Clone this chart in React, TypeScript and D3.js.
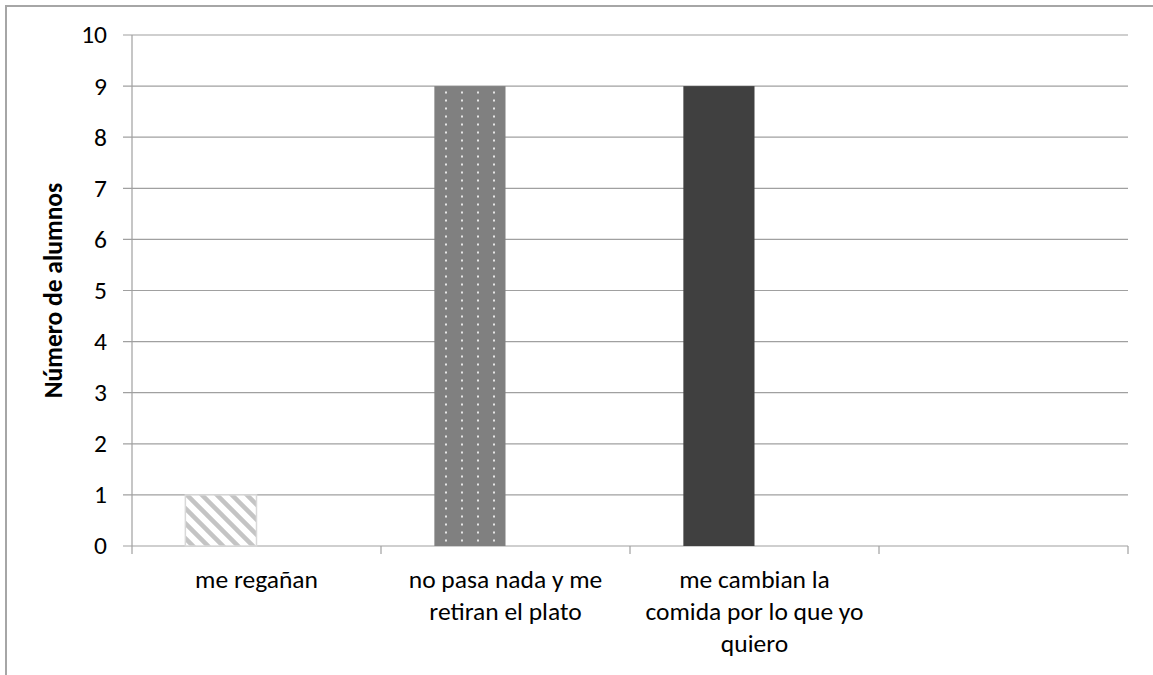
import React, { useEffect, useRef } from "react";
import * as d3 from "d3";

const categories = ["me regañan", "no pasa nada y me retiran el plato", "me cambian la comida por lo que yo quiero", ""];
const alumnos = [1, 9, 9, null];
const labelLines = [["me regañan"], ["no pasa nada y me", "retiran el plato"], ["me cambian la", "comida por lo que yo", "quiero"], []];
const yTicks = [0, 1, 2, 3, 4, 5, 6, 7, 8, 9, 10];
const yTitle = "Número de alumnos";

const FONT = "Calibri, Carlito, 'Open Sans', 'Liberation Sans', sans-serif";
const FS = 25.5;

function renderChart(el: SVGSVGElement) {
  const W = 1153;
  const H = 675;
  const margin = { top: 35, right: 25, bottom: 129, left: 132 };
  const width = W - margin.left - margin.right;
  const height = H - margin.top - margin.bottom;

  const svg = d3.select(el);
  svg.selectAll("*").remove();

  const defs = svg.append("defs");
  // light diagonal stripes
  const stripes = defs
    .append("pattern")
    .attr("id", "stripes")
    .attr("patternUnits", "userSpaceOnUse")
    .attr("width", 15)
    .attr("height", 15);
  stripes.append("rect").attr("width", 15).attr("height", 15).attr("fill", "#ffffff");
  stripes
    .append("path")
    .attr("d", "M-4,-4 L19,19 M-4,11 L4,19 M11,-4 L19,4")
    .attr("stroke", "#c4c4c4")
    .attr("stroke-width", 4.5);
  // gray with white dots
  const dots = defs
    .append("pattern")
    .attr("id", "dots")
    .attr("patternUnits", "userSpaceOnUse")
    .attr("width", 16)
    .attr("height", 8);
  dots.append("rect").attr("width", 16).attr("height", 8).attr("fill", "#808080");
  dots.append("rect").attr("x", 9).attr("y", 0.5).attr("width", 2).attr("height", 2).attr("fill", "#e6e6e6");

  // outer frame (chart area cropped)
  svg
    .append("path")
    .attr("d", `M6,${H} L6,6 L${W},6`)
    .attr("fill", "none")
    .attr("stroke", "#a6a6a6")
    .attr("stroke-width", 2);

  const g = svg.append("g").attr("transform", `translate(${margin.left},${margin.top})`);

  const x = d3.scaleBand().domain(d3.range(categories.length).map(String)).range([0, width]);
  const y = d3.scaleLinear().domain([0, 10]).range([height, 0]);

  // gridlines
  g.append("g")
    .selectAll("line")
    .data(yTicks)
    .enter()
    .append("line")
    .attr("x1", -9)
    .attr("x2", width)
    .attr("y1", (d) => y(d))
    .attr("y2", (d) => y(d))
    .attr("stroke", "#a0a0a0")
    .attr("stroke-width", 1.2);

  // y axis line
  g.append("line").attr("x1", 0).attr("x2", 0).attr("y1", 0).attr("y2", height).attr("stroke", "#a0a0a0").attr("stroke-width", 1.2);

  // category ticks
  g.append("g")
    .selectAll("line")
    .data(d3.range(categories.length + 1))
    .enter()
    .append("line")
    .attr("x1", (d) => d * x.step())
    .attr("x2", (d) => d * x.step())
    .attr("y1", height)
    .attr("y2", height + 8)
    .attr("stroke", "#a0a0a0")
    .attr("stroke-width", 1.2);

  // y tick labels
  g.append("g")
    .selectAll("text")
    .data(yTicks)
    .enter()
    .append("text")
    .attr("x", -25)
    .attr("y", (d) => y(d))
    .attr("dy", "0.33em")
    .attr("text-anchor", "end")
    .attr("font-family", FONT)
    .attr("font-size", FS)
    .attr("fill", "#000")
    .text((d) => d);

  // bars: two series per category, second one empty (gap width 150%)
  const barW = x.bandwidth() / 3.5;
  const fills = ["url(#stripes)", "url(#dots)", "#404040", "none"];
  g.append("g")
    .selectAll("rect")
    .data(alumnos.map((v, i) => ({ v, i })).filter((d) => d.v !== null))
    .enter()
    .append("rect")
    .attr("x", (d) => (x(String(d.i)) as number) + barW * 0.75)
    .attr("y", (d) => y(d.v as number))
    .attr("width", barW)
    .attr("height", (d) => y(0) - y(d.v as number))
    .attr("fill", (d) => fills[d.i])
    .attr("stroke", (d) => (d.i === 0 ? "#d9d9d9" : "none"))
    .attr("stroke-width", 1.5);

  // category labels
  const labels = g
    .append("g")
    .selectAll("text")
    .data(labelLines)
    .enter()
    .append("text")
    .attr("text-anchor", "middle")
    .attr("font-family", FONT)
    .attr("font-size", FS)
    .attr("fill", "#000");
  labels.each(function (lines, i) {
    const t = d3.select(this);
    lines.forEach((ln, k) => {
      t.append("tspan")
        .attr("x", (x(String(i)) as number) + x.bandwidth() / 2)
        .attr("y", height + 42 + k * 32)
        .text(ln);
    });
  });

  // y axis title
  g.append("text")
    .attr("transform", `translate(-70,${height / 2}) rotate(-90)`)
    .attr("text-anchor", "middle")
    .attr("font-family", FONT)
    .attr("font-size", FS)
    .attr("font-weight", "bold")
    .attr("fill", "#000")
    .text(yTitle);
}

export default function App() {
  const ref = useRef<SVGSVGElement>(null);
  useEffect(() => {
    if (ref.current) renderChart(ref.current);
  }, []);
  return (
    <svg
      ref={ref}
      width={1153}
      height={675}
      style={{ position: "absolute", left: 0, top: 0, background: "#fff" }}
    />
  );
}
